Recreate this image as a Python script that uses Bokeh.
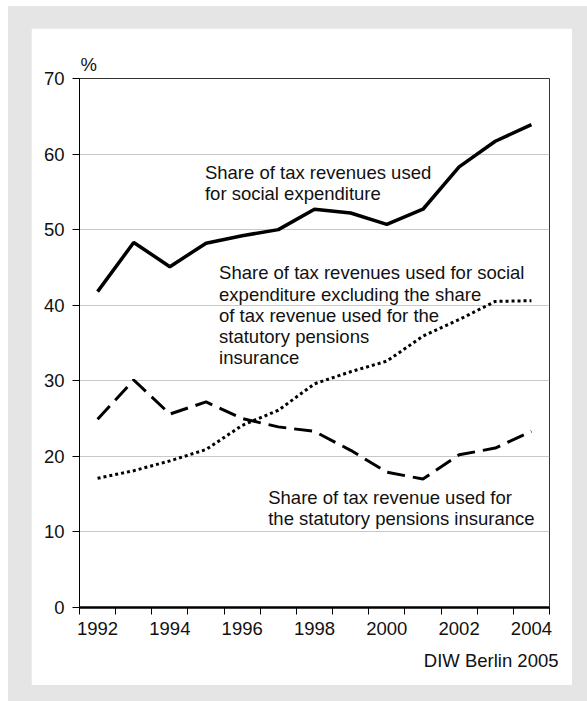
from bokeh.plotting import figure
from bokeh.models import Range1d, FixedTicker, Label, Title
from bokeh.layouts import column
from bokeh.embed import file_html
from bokeh.resources import INLINE

# ---- data ----
years = [1992, 1993, 1994, 1995, 1996, 1997, 1998, 1999, 2000, 2001, 2002, 2003, 2004]
social_share = [41.8, 48.3, 45.1, 48.2, 49.2, 50.0, 52.7, 52.2, 50.7, 52.7, 58.3, 61.7, 63.9]
social_excl_pension = [17.1, 18.1, 19.4, 20.9, 24.1, 26.1, 29.6, 31.2, 32.6, 35.9, 38.1, 40.5, 40.6]
pension_share = [24.9, 30.1, 25.6, 27.2, 25.0, 23.9, 23.3, 20.8, 17.9, 17.0, 20.2, 21.1, 23.3]

y_ticks = [0, 10, 20, 30, 40, 50, 60, 70]
x_labels = [1992, 1994, 1996, 1998, 2000, 2002, 2004]

label_social = ["Share of tax revenues used", "for social expenditure"]
label_excl = ["Share of tax revenues used for social",
              "expenditure excluding the share",
              "of tax revenue used for the",
              "statutory pensions",
              "insurance"]
label_pension = ["Share of tax revenue used for",
                 "the statutory pensions insurance"]
unit_text = "%"
source_text = "DIW Berlin 2005"

FONT = "Liberation Sans"
FS = "18.5px"
TXT = "#111111"

p = figure(width=541, height=657, output_backend="svg", toolbar_location=None,
           x_range=Range1d(1991.5, 2004.5), y_range=Range1d(0, 70),
           min_border_left=48, min_border_right=23, min_border_top=50, min_border_bottom=78,
           border_fill_color="white", background_fill_color="white",
           outline_line_color="#333333", outline_line_width=1)
p.margin = (22, 15, 16, 23)

# axes
xa = p.xaxis[0]
xa.ticker = FixedTicker(ticks=x_labels, minor_ticks=[y - 0.5 for y in years] + [years[-1] + 0.5])
xa.major_tick_out = 0
xa.major_tick_in = 0
xa.minor_tick_out = 7
xa.minor_tick_in = 0
xa.minor_tick_line_color = "black"
xa.axis_line_width = 2.5
xa.axis_line_color = "black"
xa.major_label_text_font = FONT
xa.major_label_text_font_size = FS
xa.major_label_text_color = TXT
xa.major_label_standoff = 7

ya = p.yaxis[0]
ya.ticker = FixedTicker(ticks=y_ticks)
ya.major_tick_out = 7
ya.major_tick_in = 0
ya.minor_tick_out = 0
ya.minor_tick_in = 0
ya.axis_line_color = "black"
ya.axis_line_width = 1
ya.major_tick_line_color = "black"
ya.major_label_text_font = FONT
ya.major_label_text_font_size = FS
ya.major_label_text_color = TXT
ya.major_label_standoff = 8

p.xgrid.visible = False
p.ygrid.ticker = FixedTicker(ticks=y_ticks)
p.ygrid.grid_line_color = "#c8c8c8"
p.ygrid.grid_line_width = 1

# lines
p.line(years, social_share, line_color="black", line_width=3.5)
p.line(years, pension_share, line_color="black", line_width=3, line_dash="18 8")
p.line(years, social_excl_pension, line_color="black", line_width=3, line_dash="3 3")

def add_lines(lines, x, y0, step):
    for i, t in enumerate(lines):
        p.add_layout(Label(x=x, y=y0 - i * step, text=t, text_font=FONT, text_font_size=FS,
                           text_color=TXT, text_baseline="middle", text_align="left"))

add_lines(label_social, 1994.97, 57.56, 2.75)
add_lines(label_excl, 1995.36, 44.29, 2.81)
add_lines(label_pension, 1996.72, 14.6, 2.85)

# unit above the frame, source note below the axis
p.add_layout(Title(text=unit_text, align="left", text_font=FONT, text_font_size=FS,
                   text_font_style="normal", text_color=TXT, standoff=7, offset=1), "above")
p.add_layout(Title(text=source_text, align="right", text_font=FONT, text_font_size=FS,
                   text_font_style="normal", text_color=TXT, standoff=21, offset=-9), "below")

layout = column(p, styles={"background-color": "#e5e5e5", "margin-top": "6px", "margin-left": "8px"})

open("out.html", "w").write(file_html(layout, INLINE))
